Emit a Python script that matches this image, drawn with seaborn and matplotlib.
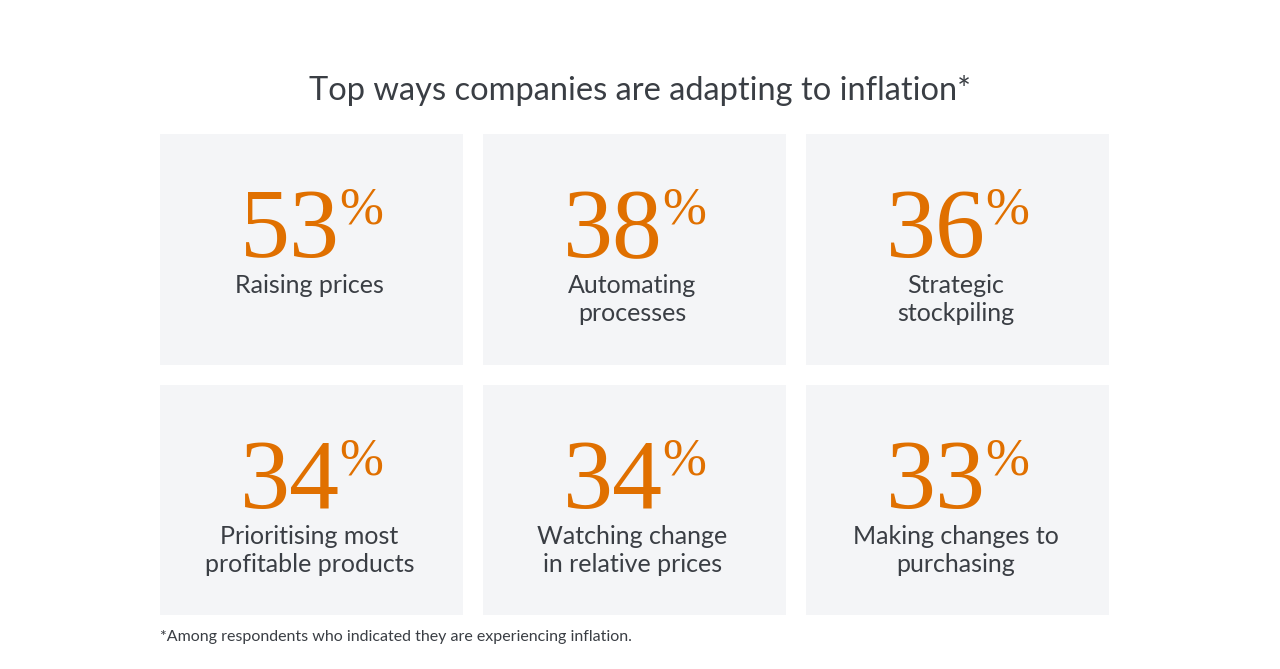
import numpy as np
import pandas as pd
import seaborn as sns
import matplotlib.pyplot as plt
from matplotlib.colors import ListedColormap

# data
values = [53, 38, 36, 34, 34, 33]
labels = ["Raising prices", "Automating\nprocesses", "Strategic\nstockpiling",
          "Prioritising most\nprofitable products", "Watching change\nin relative prices",
          "Making changes to\npurchasing"]
n_cols = 3
title = "Top ways companies are adapting to inflation*"
note = "*Among respondents who indicated they are experiencing inflation."

ORANGE = "#e07000"
TILE = "#f4f5f7"
TEXT = "#3a3e44"

sns.set_theme(style="white")
plt.rcParams["font.family"] = ["Lato", "DejaVu Sans"]

W, H = 1280, 669
fig = plt.figure(figsize=(W / 100, H / 100), dpi=100)

# axes in pixel box: x 150..1119, y 124..625
ax = fig.add_axes([150 / W, 1 - 625 / H, 969 / W, 501 / H])
grid = pd.DataFrame(np.array(values).reshape(-1, n_cols))
sns.heatmap(grid, ax=ax, cmap=ListedColormap([TILE]), cbar=False,
            linewidths=14.4, linecolor="white", xticklabels=False, yticklabels=False)

fig.canvas.draw()
r = fig.canvas.get_renderer()
px_per_x = 969 / n_cols
line_step = 28 / 250.5

for i, (v, lab) in enumerate(zip(values, labels)):
    row, col = divmod(i, n_cols)
    cx = col + 0.5
    num = ax.text(cx, row + 0.531, str(v), ha="left", va="baseline",
                  fontsize=72, color=ORANGE, family="Liberation Serif")
    pct = ax.text(cx, row + 0.398, "%", ha="left", va="baseline",
                  fontsize=38, color=ORANGE, family="Liberation Serif")
    wn = num.get_window_extent(r).width
    wp = pct.get_window_extent(r).width
    start = cx - (wn + wp) / 2 / px_per_x
    num.set_x(start)
    pct.set_x(start + wn / px_per_x)
    for k, line in enumerate(lab.split("\n")):
        ax.text(cx - 2 / px_per_x, row + 0.675 + k * line_step, line,
                ha="center", va="baseline", fontsize=18, color=TEXT)

fig.text(0.5, 1 - 100 / H, title, ha="center", va="baseline", fontsize=23.5,
         color=TEXT)
fig.text(160 / W, 1 - 641 / H, note, ha="left", va="baseline", fontsize=11.5,
         color=TEXT)

fig.savefig("out.png", dpi=100, facecolor="white")
